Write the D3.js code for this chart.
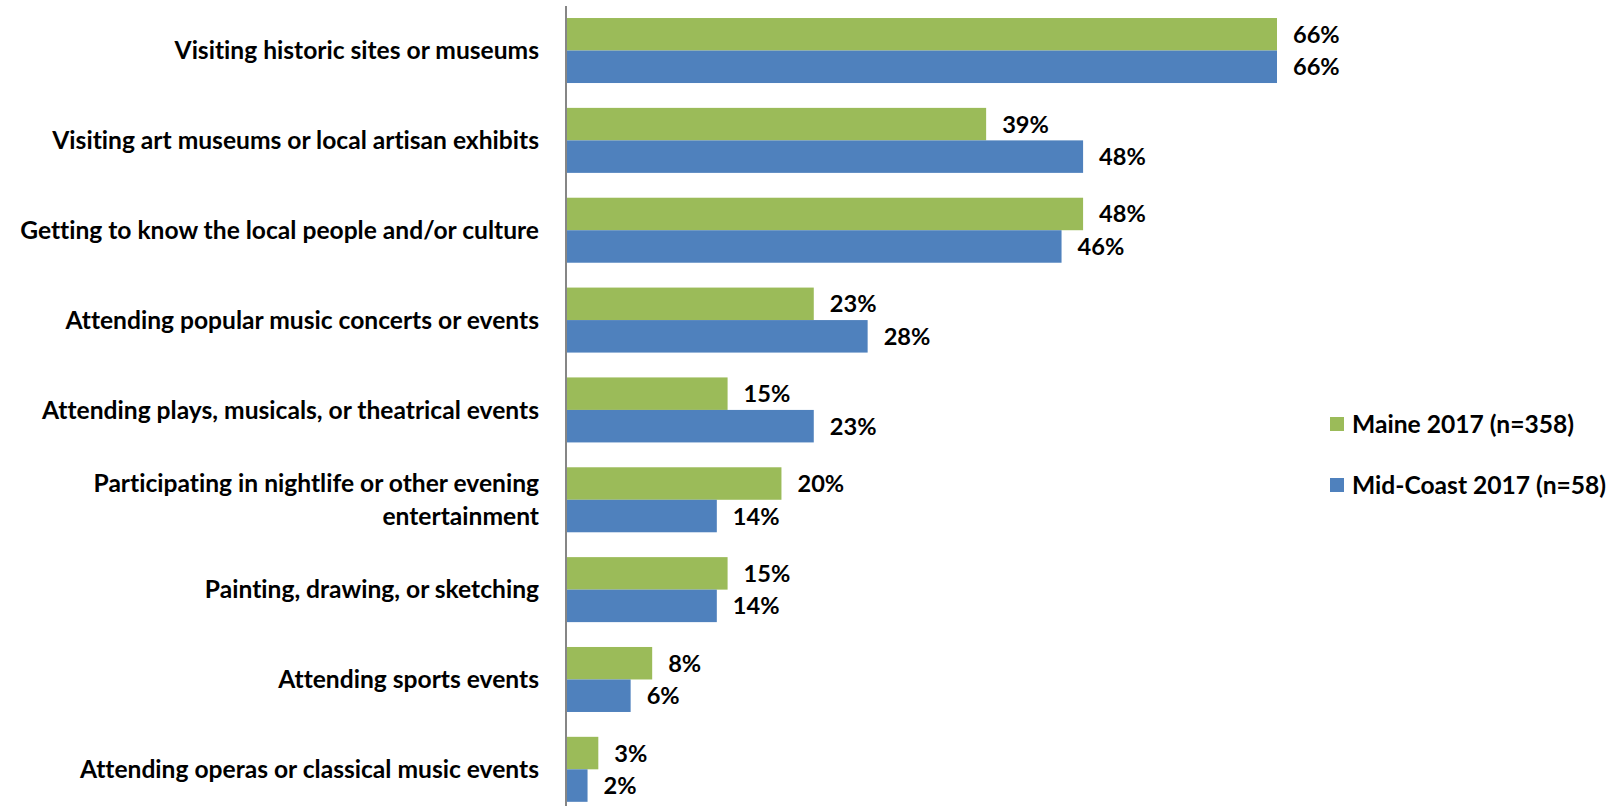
<!DOCTYPE html>
<html>
<head>
<meta charset="utf-8">
<script src="https://cdn.jsdelivr.net/npm/d3@7"></script>
<style>
  html, body { margin: 0; padding: 0; background: #fff; }
  svg { display: block; }
  text { font-family: Lato, "Open Sans", sans-serif; font-weight: bold; fill: #000; font-variant-ligatures: none; }
</style>
</head>
<body>
<svg id="chart" width="1613" height="806"></svg>
<script>
// Activities and share of visitors who took part in each
const categories = [
  ["Visiting historic sites or museums"],
  ["Visiting art museums or local artisan exhibits"],
  ["Getting to know the local people and/or culture"],
  ["Attending popular music concerts or events"],
  ["Attending plays, musicals, or theatrical events"],
  ["Participating in nightlife or other evening", "entertainment"],
  ["Painting, drawing, or sketching"],
  ["Attending sports events"],
  ["Attending operas or classical music events"]
];
const maine2017 = [66, 39, 48, 23, 15, 20, 15, 8, 3];
const midCoast2017 = [66, 48, 46, 28, 23, 14, 14, 6, 2];
const seriesNames = ["Maine 2017 (n=358)", "Mid-Coast 2017 (n=58)"];
const seriesColors = ["#9BBB59", "#4F81BD"];

const svg = d3.select("#chart");
const axisX = 566;
const plotTop = 5.6, plotBottom = 5.6 + 9 * 89.85;

const x = d3.scaleLinear().domain([0, 66]).range([axisX, 1277]);
const y = d3.scaleBand()
  .domain(d3.range(categories.length))
  .range([plotTop, plotBottom])
  .paddingInner(24.85 / 89.85)
  .paddingOuter(24.85 / 89.85 / 2);
const sub = d3.scaleBand().domain([0, 1]).range([0, y.bandwidth()]);

const series = [maine2017, midCoast2017];

series.forEach((vals, s) => {
  const g = svg.append("g");
  g.selectAll("rect")
    .data(vals)
    .join("rect")
    .attr("x", axisX)
    .attr("y", (d, i) => y(i) + sub(s))
    .attr("width", d => x(d) - axisX)
    .attr("height", sub.bandwidth())
    .attr("fill", seriesColors[s]);
  g.selectAll("text")
    .data(vals)
    .join("text")
    .attr("x", d => x(d) + 16)
    .attr("y", (d, i) => y(i) + sub(s) + sub.bandwidth() / 2)
    .attr("dy", "0.36em")
    .style("font-size", "23.6px")
    .text(d => d + "%");
});

// Category axis line
svg.append("line")
  .attr("x1", axisX).attr("x2", axisX)
  .attr("y1", 6).attr("y2", 806)
  .attr("stroke", "#868686").attr("stroke-width", 2);

// Category labels
const labels = svg.append("g");
categories.forEach((lines, i) => {
  const cy = y(i) + y.bandwidth() / 2;
  const t = labels.append("text")
    .attr("text-anchor", "end")
    .style("font-size", "24.6px");
  lines.forEach((ln, k) => {
    t.append("tspan")
      .attr("x", 539)
      .attr("y", cy + (k - (lines.length - 1) / 2) * 33)
      .attr("dy", "0.36em")
      .text(ln);
  });
});

// Legend
const legend = svg.append("g");
seriesNames.forEach((name, s) => {
  const ly = 424 + s * 61;
  legend.append("rect")
    .attr("x", 1330).attr("y", ly - 7)
    .attr("width", 14).attr("height", 14)
    .attr("fill", seriesColors[s]);
  legend.append("text")
    .attr("x", 1352).attr("y", ly)
    .attr("dy", "0.36em")
    .style("font-size", "24.6px")
    .text(name);
});
</script>
</body>
</html>
